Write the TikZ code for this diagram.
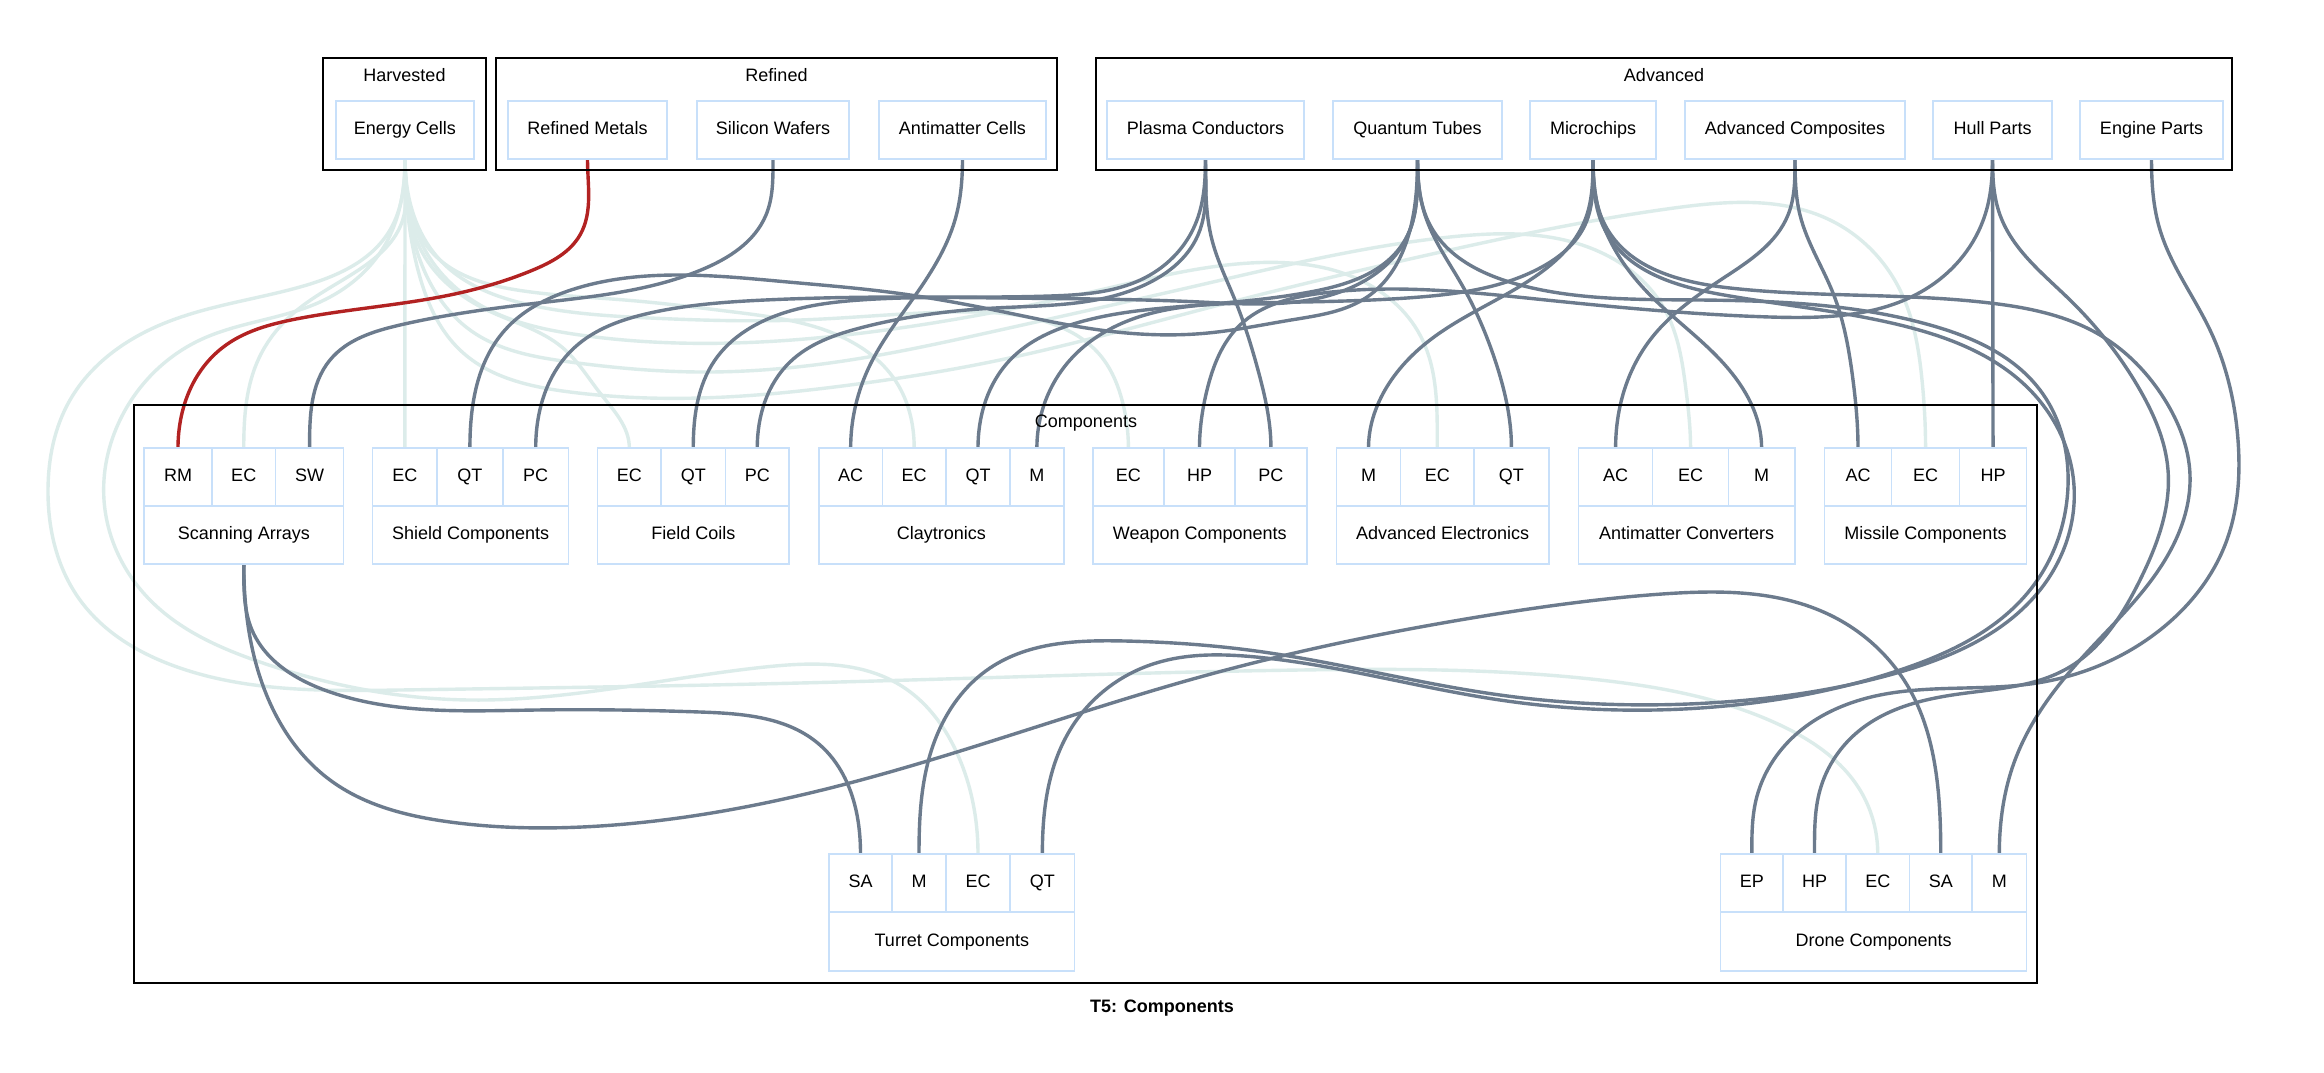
\documentclass[tikz,border=0pt]{standalone}
\usepackage{fontspec}
\setmainfont{Liberation Sans}
\usetikzlibrary{hobby}
\pgfdeclarelayer{back}
\pgfdeclarelayer{bg}
\pgfsetlayers{back,bg,main}
\definecolor{nodeblue}{HTML}{C8E0FA}
\definecolor{edgegray}{HTML}{6C7B8D}
\definecolor{edgelight}{HTML}{DCECEA}
\definecolor{edgered}{HTML}{B22222}
\tikzset{
  nd/.style={draw=nodeblue, line width=0.75pt, fill=white, inner sep=0pt, outer sep=0pt, text height=6.5pt, text depth=1.6pt, font=\fontsize{9}{11}\selectfont},
  clus/.style={draw=black, line width=0.8pt, inner sep=0pt, outer sep=0pt},
  lbl/.style={font=\fontsize{9}{11}\selectfont, inner sep=0pt},
  gw/.style={draw=edgegray, line width=1.7pt, use Hobby shortcut},
  lw/.style={draw=edgelight, line width=1.7pt, use Hobby shortcut},
  rw/.style={draw=edgered, line width=1.7pt, use Hobby shortcut},
}
\newcommand{\mkbox}[7]{\node[#7, minimum width={(#3-#2)*0.5pt}, minimum height={(#5-#4)*0.5pt}] (#1) at ({(#2+#3)/2},{(#4+#5)/2}) {#6};}
\begin{document}
\begin{tikzpicture}[x=0.5pt,y=-0.5pt]
\begin{pgfonlayer}{back}
\fill[white] (0,0) rectangle (2324,1072);
\end{pgfonlayer}
\useasboundingbox (0,0) rectangle (2324,1072);
% clusters
\mkbox{harv}{323}{486}{58}{170}{}{clus}
\node[lbl] (harvl) at (404.5,75) {Harvested};
\mkbox{refi}{496}{1057}{58}{170}{}{clus}
\node[lbl] (refil) at (776.5,75) {Refined};
\mkbox{adva}{1096}{2232}{58}{170}{}{clus}
\node[lbl] (adval) at (1664,75) {Advanced};
\mkbox{comp}{134}{2037}{405}{983}{}{clus}
\node[lbl] (compl) at (1086,423) {Components};
% top nodes
\mkbox{ecell}{336}{474}{101}{159}{Energy Cells}{nd}
\mkbox{rmet}{508}{667}{101}{159}{Refined Metals}{nd}
\mkbox{swaf}{697}{849}{101}{159}{Silicon Wafers}{nd}
\mkbox{acell}{879}{1046}{101}{159}{Antimatter Cells}{nd}
\mkbox{plas}{1107}{1304}{101}{159}{Plasma Conductors}{nd}
\mkbox{qtub}{1333}{1502}{101}{159}{Quantum Tubes}{nd}
\mkbox{mchip}{1530}{1656}{101}{159}{Microchips}{nd}
\mkbox{acomp}{1685}{1905}{101}{159}{Advanced Composites}{nd}
\mkbox{hull}{1933}{2052}{101}{159}{Hull Parts}{nd}
\mkbox{eng}{2080}{2223}{101}{159}{Engine Parts}{nd}
% records
\mkbox{saRM}{144}{212}{448}{506}{RM}{nd}
\mkbox{saEC}{212}{275.5}{448}{506}{EC}{nd}
\mkbox{saSW}{275.5}{343.6}{448}{506}{SW}{nd}
\mkbox{sa}{144}{343.6}{506}{564}{Scanning Arrays}{nd}
\mkbox{shEC}{372.7}{437}{448}{506}{EC}{nd}
\mkbox{shQT}{437}{502.8}{448}{506}{QT}{nd}
\mkbox{shPC}{502.8}{568.6}{448}{506}{PC}{nd}
\mkbox{sh}{372.7}{568.6}{506}{564}{Shield Components}{nd}
\mkbox{fcEC}{597.7}{661}{448}{506}{EC}{nd}
\mkbox{fcQT}{661}{725.5}{448}{506}{QT}{nd}
\mkbox{fcPC}{725.5}{789}{448}{506}{PC}{nd}
\mkbox{fc}{597.7}{789}{506}{564}{Field Coils}{nd}
\mkbox{clAC}{818.9}{882.4}{448}{506}{AC}{nd}
\mkbox{clEC}{882.4}{946}{448}{506}{EC}{nd}
\mkbox{clQT}{946}{1010}{448}{506}{QT}{nd}
\mkbox{clM}{1010}{1063.8}{448}{506}{M}{nd}
\mkbox{cl}{818.9}{1063.8}{506}{564}{Claytronics}{nd}
\mkbox{wpEC}{1092.8}{1164}{448}{506}{EC}{nd}
\mkbox{wpHP}{1164}{1235}{448}{506}{HP}{nd}
\mkbox{wpPC}{1235}{1306.9}{448}{506}{PC}{nd}
\mkbox{wp}{1092.8}{1306.9}{506}{564}{Weapon Components}{nd}
\mkbox{aeM}{1336.5}{1400.5}{448}{506}{M}{nd}
\mkbox{aeEC}{1400.5}{1474}{448}{506}{EC}{nd}
\mkbox{aeQT}{1474}{1548.9}{448}{506}{QT}{nd}
\mkbox{ae}{1336.5}{1548.9}{506}{564}{Advanced Electronics}{nd}
\mkbox{acAC}{1578.5}{1652.7}{448}{506}{AC}{nd}
\mkbox{acEC}{1652.7}{1728.4}{448}{506}{EC}{nd}
\mkbox{acM}{1728.4}{1794.8}{448}{506}{M}{nd}
\mkbox{ac}{1578.5}{1794.8}{506}{564}{Antimatter Converters}{nd}
\mkbox{miAC}{1824.4}{1891.6}{448}{506}{AC}{nd}
\mkbox{miEC}{1891.6}{1959.5}{448}{506}{EC}{nd}
\mkbox{miHP}{1959.5}{2026.6}{448}{506}{HP}{nd}
\mkbox{mi}{1824.4}{2026.6}{506}{564}{Missile Components}{nd}
\mkbox{tuSA}{829}{892}{854}{912}{SA}{nd}
\mkbox{tuM}{892}{946}{854}{912}{M}{nd}
\mkbox{tuEC}{946}{1010}{854}{912}{EC}{nd}
\mkbox{tuQT}{1010}{1074.7}{854}{912}{QT}{nd}
\mkbox{tu}{829}{1074.7}{912}{971}{Turret Components}{nd}
\mkbox{drEP}{1720.6}{1783}{854}{912}{EP}{nd}
\mkbox{drHP}{1783}{1846}{854}{912}{HP}{nd}
\mkbox{drEC}{1846}{1909.5}{854}{912}{EC}{nd}
\mkbox{drSA}{1909.5}{1972}{854}{912}{SA}{nd}
\mkbox{drM}{1972}{2026.6}{854}{912}{M}{nd}
\mkbox{dr}{1720.6}{2026.6}{912}{971}{Drone Components}{nd}
\node[font=\fontsize{9}{11}\selectfont\bfseries, inner sep=0pt] (title) at (1162,1008) {T5: Components};
\begin{pgfonlayer}{bg}
% light edges from Energy Cells
\draw[draw=edgelight, line width=1.7pt] (ecell.south) -- (shEC.north);
\draw[lw] ([out angle=-90]ecell.south) .. (402,222) .. (363,267) .. (296,311) .. (259,358) .. ([in angle=90]saEC.north);
\draw[lw] ([out angle=-90]ecell.south) .. (422,252) .. (489,311) .. (563,348) .. (600,393) .. ([in angle=90]fcEC.north);
\draw[lw] ([out angle=-90]ecell.south) .. (430,250) .. (517,290) .. (625,300) .. (734,312) .. (842,337) .. (895,380) .. ([in angle=90]clEC.north);
\draw[lw] ([out angle=-90]ecell.south) .. (440,260) .. (530,305) .. (650,318) .. (800,320) .. (950,312) .. (1040,320) .. (1100,355) .. (1122,400) .. ([in angle=90]wpEC.north);
\draw[lw] ([out angle=-90]ecell.south) .. (425,250) .. (480,305) .. (580,335) .. (733,343) .. (900,328) .. (1100,290) .. (1250,263) .. (1360,280) .. (1420,335) .. ([in angle=90]aeEC.north);
\draw[lw] ([out angle=-90]ecell.south) .. (420,260) .. (470,330) .. (570,362) .. (700,372) .. (850,360) .. (1000,330) .. (1200,285) .. (1450,237) .. (1600,252) .. (1665,310) .. (1686,390) .. ([in angle=90]acEC.north);
\draw[lw] ([out angle=-90]ecell.south) .. (418,270) .. (460,350) .. (570,392) .. (700,398) .. (850,385) .. (1000,360) .. (1200,310) .. (1450,250) .. (1674,208) .. (1830,220) .. (1900,290) .. (1922,380) .. ([in angle=90]miEC.north);
\draw[lw] ([out angle=-90]ecell.south) .. (390,230) .. (300,287) .. (160,325) .. (70,400) .. (48,490) .. (80,600) .. (180,668) .. (400,690) .. (800,683) .. (1300,670) .. (1600,680) .. (1780,725) .. (1860,790) .. ([in angle=90]drEC.north);
\draw[lw] ([out angle=-90]ecell.south) .. (385,245) .. (320,302) .. (200,340) .. (120,420) .. (104,500) .. (150,600) .. (260,662) .. (470,700) .. (765,667) .. (900,685) .. (960,760) .. ([in angle=90]tuEC.north);
% red edge
\draw[rw] ([out angle=-90]rmet.south) .. (580,235) .. (533,270) .. (445,296) .. (296,319) .. (222,348) .. ([in angle=90]saRM.north);
% gray edges
\draw[gw] ([out angle=-90]swaf.south) .. (766,215) .. (701,270) .. (538,303) .. (400,325) .. (330,360) .. ([in angle=90]saSW.north);
\draw[gw] ([out angle=-90]acell.south) .. (955,220) .. (912,300) .. (870,365) .. ([in angle=90]clAC.north);
\draw[gw] ([out angle=-90]plas.south) .. (1195,225) .. (1150,275) .. (1050,296) .. (900,297) .. (765,300) .. (650,313) .. (574,348) .. ([in angle=90]shPC.north);
\draw[gw] ([out angle=-90]plas.south) .. (1198,235) .. (1140,287) .. (995,308) .. (860,328) .. (790,362) .. ([in angle=90]fcPC.north);
\draw[gw] ([out angle=-90]plas.south) .. (1212,240) .. (1235,300) .. (1258,370) .. ([in angle=90]wpPC.north);
\draw[gw] ([out angle=-90]qtub.south) .. (1410,230) .. (1370,295) .. (1291,320) .. (1208,333) .. (1100,330) .. (1004,312) .. (896,293) .. (788,282) .. (679,275) .. (571,290) .. (505,330) .. ([in angle=90]shQT.north);
\draw[gw] ([out angle=-90]qtub.south) .. (1408,235) .. (1340,292) .. (1200,302) .. (1004,298) .. (860,300) .. (770,318) .. (715,360) .. ([in angle=90]fcQT.north);
\draw[gw] ([out angle=-90]qtub.south) .. (1405,240) .. (1310,292) .. (1200,305) .. (1080,322) .. (1010,360) .. ([in angle=90]clQT.north);
\draw[gw] ([out angle=-90]qtub.south) .. (1425,215) .. (1462,285) .. (1495,360) .. ([in angle=90]aeQT.north);
\draw[gw] ([out angle=-90]qtub.south) .. (1430,225) .. (1520,285) .. (1700,300) .. (1930,325) .. (2040,390) .. (2068,486) .. (2030,590) .. (1900,670) .. (1725,706) .. (1500,700) .. (1256,657) .. (1150,665) .. (1070,730) .. ([in angle=90]tuQT.north);
\draw[gw] ([out angle=-90]mchip.south) .. (1585,225) .. (1540,268) .. (1420,297) .. (1250,303) .. (1130,320) .. (1070,360) .. ([in angle=90]clM.north);
\draw[gw] ([out angle=-90]mchip.south) .. (1585,220) .. (1530,280) .. (1430,340) .. (1385,390) .. ([in angle=90]aeM.north);
\draw[gw] ([out angle=-90]mchip.south) .. (1600,215) .. (1650,295) .. (1725,365) .. ([in angle=90]acM.north);
\draw[gw] ([out angle=-90]mchip.south) .. (1605,230) .. (1724,295) .. (1900,325) .. (2030,390) .. (2074,486) .. (2040,590) .. (1900,672) .. (1724,702) .. (1500,695) .. (1256,651) .. (1125,641) .. (990,668) .. (935,740) .. ([in angle=90]tuM.north);
\draw[gw] ([out angle=-90]mchip.south) .. (1605,225) .. (1730,288) .. (1990,303) .. (2100,335) .. (2165,400) .. (2190,475) .. (2165,560) .. (2080,660) .. (2015,760) .. ([in angle=90]drM.north);
\draw[gw] ([out angle=-90]acomp.south) .. (1788,215) .. (1725,277) .. (1650,340) .. ([in angle=90]acAC.north);
\draw[gw] ([out angle=-90]acomp.south) .. (1800,215) .. (1833,293) .. (1853,380) .. ([in angle=90]miAC.north);
\draw[draw=edgegray, line width=1.7pt] (hull.south) -- (miHP.north);
\draw[gw] ([out angle=-90]hull.south) .. (1985,215) .. (1929,287) .. (1770,317) .. (1546,300) .. (1323,293) .. (1240,325) .. (1207,390) .. ([in angle=90]wpHP.north);
\draw[gw] ([out angle=-90]hull.south) .. (2000,215) .. (2070,300) .. (2140,390) .. (2168,470) .. (2140,580) .. (2068,668) .. (1959,694) .. (1860,730) .. (1820,790) .. ([in angle=90]drHP.north);
\draw[gw] ([out angle=-90]eng.south) .. (2160,230) .. (2210,330) .. (2238,440) .. (2225,545) .. (2160,630) .. (2037,683) .. (1880,695) .. (1790,740) .. (1756,800) .. ([in angle=90]drEP.north);
\draw[gw] ([out angle=-90]sa.south) .. (252,630) .. (330,692) .. (536,710) .. (700,712) .. (820,745) .. (856,810) .. ([in angle=90]tuSA.north);
\draw[gw] ([out angle=-90]sa.south) .. (255,660) .. (330,780) .. (450,822) .. (600,826) .. (842,785) .. (1200,677) .. (1490,615) .. (1662,594) .. (1830,615) .. (1910,690) .. (1937,780) .. ([in angle=90]drSA.north);
\end{pgfonlayer}
\end{tikzpicture}
\end{document}
